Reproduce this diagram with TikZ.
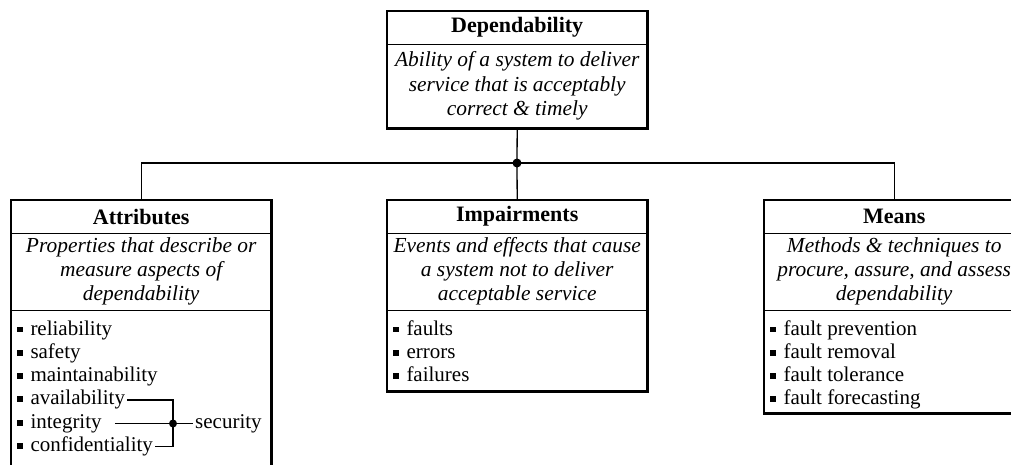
\documentclass[tikz,border=0pt]{standalone}
\usepackage{fontspec}
\setmainfont{Liberation Serif}
% small filled square used as the list bullet
\newcommand{\sqb}{\raisebox{2.7pt}{\rule{5.8pt}{5.8pt}}\hspace{7.5pt}}

\begin{document}
\begin{tikzpicture}[x=1pt,y=-1pt,
  frame/.style={line width=2.8pt},
  divider/.style={line width=1.2pt},
  link/.style={line width=1.3pt},
  band/.style={inner sep=0pt, minimum width=260pt, anchor=north west},
  titleband/.style={band, minimum height=33pt, font=\bfseries\fontsize{22}{24}\selectfont},
  descband/.style={band, minimum height=77pt, align=center, font=\itshape\fontsize{21.4}{24}\selectfont},
  listband/.style={band, minimum width=260pt},
  entry/.style={anchor=base west, inner sep=2pt, font=\fontsize{21}{24}\selectfont},
  plain/.style={anchor=west, inner sep=2pt, font=\fontsize{21}{24}\selectfont},
]
\useasboundingbox (0,0) rectangle (1011,464);
\clip (0,0) rectangle (1011,464);

% ---- Dependability ----
\node[titleband] (depT) at (387,11) {Dependability};
\node[descband, minimum height=84pt, font=\itshape\fontsize{21.4}{24.5}\selectfont] (depD) at (387,44)
  {Ability of a system to deliver\\service that is acceptably\\correct \& timely};
\draw[divider] (depT.south west) -- (depT.south east);
\draw[frame] (depT.north west) rectangle (depD.south east);

% ---- Attributes ----
\node[titleband] (attT) at (11,200) {Attributes};
\node[descband] (attD) at (11,233)
  {Properties that describe or\\measure aspects of\\dependability};
\node[listband, minimum height=170pt] (attL) at (11,310) {};
\draw[divider] (attT.south west) -- (attT.south east);
\draw[divider] (attD.south west) -- (attD.south east);
\draw[frame] (attT.north west) rectangle (attL.south east);
\node[entry] (a1) at (15,335.0) {\sqb reliability};
\node[entry] (a2) at (15,358.3) {\sqb safety};
\node[entry] (a3) at (15,381.6) {\sqb maintainability};
\node[entry] (a4) at (15,404.9) {\sqb availability};
\node[entry] (a5) at (15,428.2) {\sqb integrity};
\node[entry] (a6) at (15,451.5) {\sqb confidentiality};
\coordinate (j) at (173,0 |- a5.east);
\node[plain] (sec) at (193,0 |- j) {security};
\draw[link] (a4.east) -| (j);
\draw[link] (a6.east) -| (j);
\draw[link] ([xshift=11pt]a5.east) -- (j);
\draw[link] (j) -- (sec.west);
\fill (j) circle (4pt);

% ---- Impairments ----
\node[titleband] (impT) at (387,200) {Impairments};
\node[descband] (impD) at (387,233)
  {Events and effects that cause\\a system not to deliver\\acceptable service};
\node[listband, minimum height=81pt] (impL) at (387,310) {};
\draw[divider] (impT.south west) -- (impT.south east);
\draw[divider] (impD.south west) -- (impD.south east);
\draw[frame] (impT.north west) rectangle (impL.south east);
\node[entry] (i1) at (391,335.0) {\sqb faults};
\node[entry] (i2) at (391,358.3) {\sqb errors};
\node[entry] (i3) at (391,381.6) {\sqb failures};

% ---- Means ----
\node[titleband] (meaT) at (764,200) {Means};
\node[descband] (meaD) at (764,233)
  {Methods \& techniques to\\procure, assure, and assess\\dependability};
\node[listband, minimum height=103pt] (meaL) at (764,310) {};
\draw[divider] (meaT.south west) -- (meaT.south east);
\draw[divider] (meaD.south west) -- (meaD.south east);
\draw[frame] (meaT.north west) rectangle (meaL.south east);
\node[entry] (m1) at (768,335.0) {\sqb fault prevention};
\node[entry] (m2) at (768,358.3) {\sqb fault removal};
\node[entry] (m3) at (768,381.6) {\sqb fault tolerance};
\node[entry] (m4) at (768,404.9) {\sqb fault forecasting};

% ---- tree connectors ----
\coordinate (hub) at (517,163);
\draw[link] (depD.south) -- (hub);
\draw[link] (hub) -- (impT.north);
\draw[link] (attT.north) |- (hub);
\draw[link] (hub) -| (meaT.north);
\fill (hub) circle (4.5pt);
\end{tikzpicture}
\end{document}
